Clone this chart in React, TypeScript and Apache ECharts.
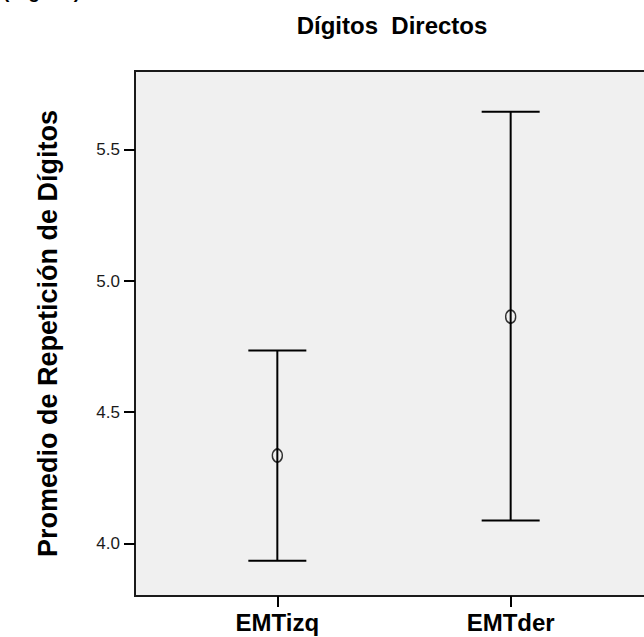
import React, { useEffect, useRef } from "react";
import * as echarts from "echarts";

const categories = ["EMTizq", "EMTder"];
const means = [4.335, 4.864];
const lowerCI = [3.934, 4.088];
const upperCI = [4.735, 5.645];
const yTicks = [4.0, 4.5, 5.0, 5.5];
const chartTitle = "Dígitos  Directos";
const yTitle = "Promedio de Repetición de Dígitos";
const cornerText = "(Dígitos)";

const FONT = "'Liberation Sans', Arial, Helvetica, sans-serif";

export default function App() {
  const ref = useRef<HTMLDivElement>(null);
  useEffect(() => {
    if (!ref.current) return;
    const chart = echarts.init(ref.current, undefined, { renderer: "svg" });
    const xs = categories.map((_, i) => i + 1);
    const errData = xs.map((x, i) => [x, lowerCI[i], upperCI[i]]);
    const meanData = xs.map((x, i) => [x, means[i]]);
    chart.setOption({
      animation: false,
      backgroundColor: "#ffffff",
      textStyle: { fontFamily: FONT },
      graphic: [
        {
          type: "text",
          x: 392,
          y: 25,
          style: {
            text: chartTitle,
            font: `bold 24px ${FONT}`,
            fill: "#000",
            textAlign: "center",
            textVerticalAlign: "middle",
          },
        },
        {
          type: "text",
          x: 3,
          y: 1,
          style: {
            text: cornerText,
            font: `bold 19px ${FONT}`,
            fill: "#000",
            textAlign: "left",
            textVerticalAlign: "bottom",
          },
        },
      ],
      grid: {
        left: 135,
        top: 71,
        width: 518,
        bottom: 41,
        show: true,
        outerBoundsMode: "none",
        containLabel: false,
        backgroundColor: "#f0f0f0",
        borderColor: "#1a1a1a",
        borderWidth: 2,
      },
      xAxis: {
        type: "value",
        min: 0.39,
        max: 2.61,
        splitLine: { show: false },
        axisLine: { show: false },
        axisTick: {
          show: true,
          customValues: xs,
          length: 11,
          lineStyle: { color: "#000", width: 2 },
        },
        axisLabel: {
          customValues: xs,
          formatter: (v: number) => categories[Math.round(v) - 1] ?? "",
          fontSize: 24,
          fontWeight: "bold",
          color: "#000",
          margin: 14,
          fontFamily: FONT,
        },
      },
      yAxis: {
        type: "value",
        min: 3.8,
        max: 5.8,
        name: yTitle,
        nameLocation: "middle",
        nameRotate: 90,
        nameGap: 74,
        nameMoveOverlap: false,
        nameTextStyle: {
          fontSize: 27,
          fontWeight: "bold",
          color: "#000",
          fontFamily: FONT,
        },
        splitLine: { show: false },
        axisLine: { show: false },
        axisTick: {
          show: true,
          customValues: yTicks,
          length: 11,
          lineStyle: { color: "#000", width: 2 },
        },
        axisLabel: {
          customValues: yTicks,
          formatter: (v: number) => v.toFixed(1),
          fontSize: 17,
          color: "#1a1a1a",
          margin: 15,
          fontFamily: FONT,
        },
      },
      series: [
        {
          type: "custom",
          data: errData,
          encode: { x: 0, y: [1, 2] },
          z: 2,
          renderItem: (params: any, api: any) => {
            const x = api.value(0);
            const lo = api.coord([x, api.value(1)]);
            const hi = api.coord([x, api.value(2)]);
            const hw = 29;
            const style = { stroke: "#000", lineWidth: 2 };
            return {
              type: "group",
              children: [
                { type: "line", shape: { x1: hi[0], y1: hi[1], x2: lo[0], y2: lo[1] }, style },
                { type: "line", shape: { x1: hi[0] - hw, y1: hi[1], x2: hi[0] + hw, y2: hi[1] }, style },
                { type: "line", shape: { x1: lo[0] - hw, y1: lo[1], x2: lo[0] + hw, y2: lo[1] }, style },
              ],
            };
          },
        },
        {
          type: "scatter",
          data: meanData,
          z: 3,
          symbol: "circle",
          symbolSize: [10, 13],
          itemStyle: { color: "rgba(0,0,0,0)", borderColor: "#000", borderWidth: 1.6 },
        },
      ],
    });
    return () => chart.dispose();
  }, []);
  return (
    <div
      ref={ref}
      style={{ position: "fixed", left: 0, top: 0, width: 644, height: 637 }}
    />
  );
}
